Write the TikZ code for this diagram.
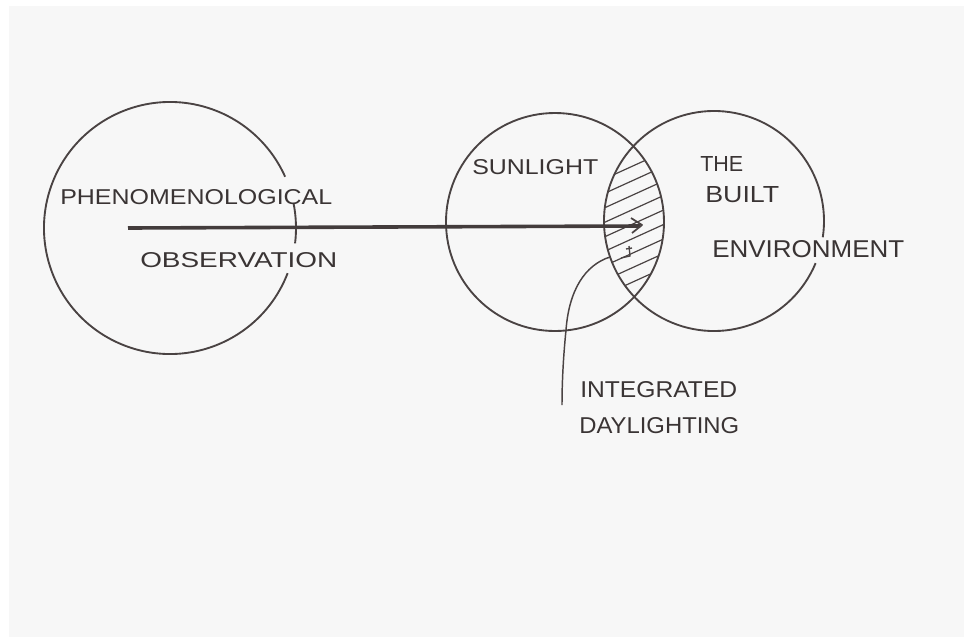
\documentclass[tikz,border=0pt]{standalone}
\usepackage{fontspec}
\setmainfont{Liberation Sans}
\usepackage{graphicx}
\newdimen\px \px=0.75pt
\newcommand{\hw}[3]{\resizebox{#1\px}{#2\px}{#3}}
\definecolor{paper}{HTML}{F7F7F7}
\definecolor{pencil}{HTML}{4A4343}
\definecolor{ink}{HTML}{3A3434}
\begin{document}
\begin{tikzpicture}[x=0.75pt,y=-0.75pt,
  ring/.style={draw=pencil,line width=1.4pt},
  hatch/.style={draw=pencil,line width=0.9pt},
  label/.style={inner sep=0pt,anchor=south west,text=ink},
  thick arrow/.style={draw=pencil!90!black,line width=2.7pt},
  leader/.style={draw=pencil,line width=1.1pt}]
\useasboundingbox (0,0) rectangle (971,643);
\fill[white] (0,0) rectangle (971,643);
\fill[paper] (9,6) rectangle (964,637);

% centres
\coordinate (L) at (170,228);
\coordinate (S) at (555,222);
\coordinate (B) at (714,221);
\coordinate (from) at (128,228);
\coordinate (to) at (640,226);
\coordinate (lens) at (610,257);
\coordinate (leaderend) at (562,405);

% left circle with gaps around the labels
\draw[ring] ([shift={(21:126)}]L) arc[start angle=21,end angle=336,radius=126];
\draw[ring] ([shift={(-11.5:126)}]L) arc[start angle=-11.5,end angle=7,radius=126];

% sunlight circle
\draw[ring] (S) circle (109);
% built environment circle with gap at ENVIRONMENT
\draw[ring] ([shift={(22.5:110)}]B) arc[start angle=22.5,end angle=368.5,radius=110];

% hatching in the intersection
\begin{scope}
  \clip (S) circle (109);
  \clip (B) circle (110);
  \foreach \k in {0,...,8}
    \draw[hatch] (580,{163+14.5*\k+27}) -- (690,{163+14.5*\k-23});
\end{scope}

% small mark in the lens
\draw[pencil,line width=1pt] (629,246) -- (630,256) -- (621,258);
\draw[pencil,line width=1pt] (626,249) -- (632,248);

% arrow
\draw[thick arrow] (from) -- (to);
\draw[pencil,line width=1.3pt,line join=round] ([shift={(-9,-8)}]to) -- ([shift={(2,-1)}]to) -- ([shift={(-8,7)}]to);

% leader
\draw[leader] (lens) .. controls (585,265) and (569,290) .. (566,330)
  .. controls (563,360) and (562,385) .. (leaderend);

% labels
\node[label] (phen) at (60,205) {\hw{272}{15}{PHENOMENOLOGICAL}};
\node[label] (obs) at (140,268) {\hw{197}{15}{OBSERVATION}};
\node[label] (sun) at (472,175) {\hw{126}{15}{SUNLIGHT}};
\node[label] (the) at (700,172) {\hw{43}{15}{THE}};
\node[label] (built) at (705,203) {\hw{74}{16}{BUILT}};
\node[label] (env) at (712,258) {\hw{192}{17}{ENVIRONMENT}};
\node[label] (integ) at (580,398) {\hw{157}{16}{INTEGRATED}};
\node[label] (day) at (579,434) {\hw{160}{16}{DAYLIGHTING}};
\end{tikzpicture}
\end{document}
